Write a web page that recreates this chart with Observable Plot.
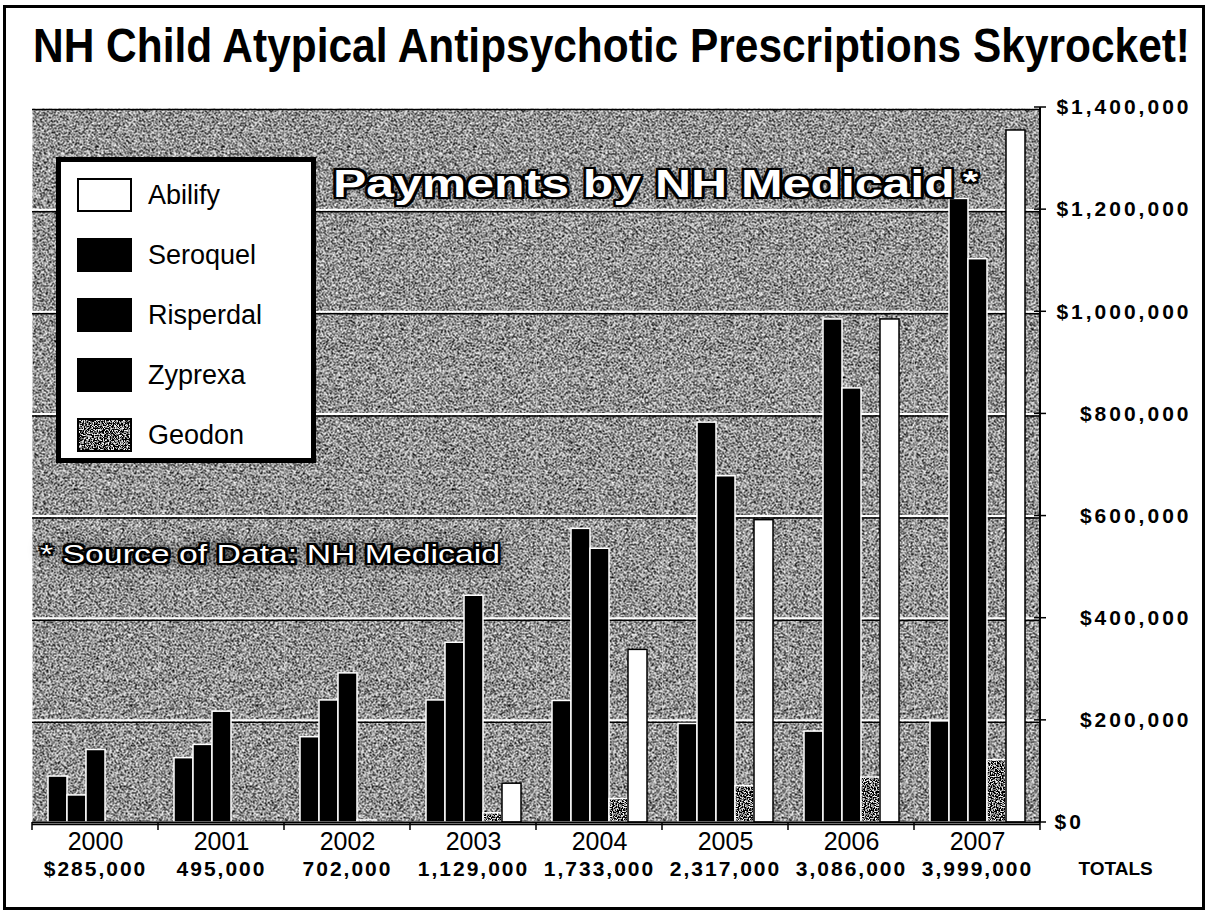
<!DOCTYPE html>
<html>
<head>
<meta charset="utf-8">
<script src="https://cdn.jsdelivr.net/npm/d3@7"></script>
<script src="https://cdn.jsdelivr.net/npm/@observablehq/plot@0.6"></script>
<style>
  html, body { margin: 0; padding: 0; background: #fff; }
  body { width: 1208px; height: 917px; position: relative; overflow: hidden;
         font-family: "Liberation Sans", Arial, sans-serif; }
  #frame { position: absolute; left: 3px; top: 5px; width: 1196px; height: 899px; border: 3px solid #000; }
  #chart { position: absolute; left: 0; top: 0; }
  .fit { position: absolute; white-space: nowrap; line-height: 1; transform-origin: 0 0; }
  #title { left: 33px; top: 22px; font-size: 48px; font-weight: bold; color: #000;
           font-family: "Liberation Sans Narrow", "Liberation Sans", Arial, sans-serif; }
  #subtitle { left: 333px; top: 165px; font-size: 38px; font-weight: bold; color: #fff;
              text-shadow: 2px 0 0 #000, -2px 0 0 #000, 0 2px 0 #000, 0 -2px 0 #000,
                           2px 2px 0 #000, -2px -2px 0 #000, 2px -2px 0 #000, -2px 2px 0 #000, 0 0 6px #000; }
  #subtitle .star { font-size: 30px; vertical-align: 6px; margin-left: 6px; }
  #source { left: 40px; top: 541px; font-size: 26px; color: #fff;
            text-shadow: 2px 0 0 #000, -2px 0 0 #000, 0 2px 0 #000, 0 -2px 0 #000,
                         2px 2px 0 #000, -2px -2px 0 #000, 2px -2px 0 #000, -2px 2px 0 #000, 0 0 8px #000, 0 0 12px #000; }
  #legend { position: absolute; left: 56px; top: 157px; width: 250px; height: 296px;
            border: 5px solid #000; background: #fff; }
  .lrow { position: absolute; left: 16px; height: 34px; display: flex; align-items: center; }
  .lrow svg { display: block; }
  .lrow span { margin-left: 16px; font-size: 27px; color: #000; }
</style>
</head>
<body>
<svg width="0" height="0" style="position:absolute">
  <defs>
    <filter id="grain" x="0" y="0" width="100%" height="100%" filterUnits="objectBoundingBox">
      <feTurbulence type="fractalNoise" baseFrequency="0.75" numOctaves="3" seed="7"/>
      <feColorMatrix type="matrix" values="4.5 0 0 0 -1.85  4.5 0 0 0 -1.85  4.5 0 0 0 -1.85  0 0 0 0 1"/>
    </filter>
    <filter id="grainDark" x="0" y="0" width="100%" height="100%" filterUnits="objectBoundingBox">
      <feTurbulence type="fractalNoise" baseFrequency="0.8" numOctaves="2" seed="3"/>
      <feColorMatrix type="matrix" values="4 0 0 0 -1.85  4 0 0 0 -1.85  4 0 0 0 -1.85  0 0 0 0 1"/>
    </filter>
    <pattern id="noise" patternUnits="userSpaceOnUse" x="0" y="0" width="1208" height="917">
      <rect width="1208" height="917" fill="#777" filter="url(#grain)"/>
    </pattern>
    <pattern id="noiseDark" patternUnits="userSpaceOnUse" x="0" y="0" width="1208" height="917">
      <rect width="1208" height="917" fill="#333" filter="url(#grainDark)"/>
    </pattern>
  </defs>
</svg>
<div id="frame"></div>
<div id="chart"></div>
<div id="title" class="fit">NH Child Atypical Antipsychotic Prescriptions Skyrocket!</div>
<div id="subtitle" class="fit">Payments by NH Medicaid<span class="star">*</span></div>
<div id="source" class="fit">* Source of Data: NH Medicaid</div>
<div id="legend"></div>
<script>
// ---- data ----
const years = ["2000", "2001", "2002", "2003", "2004", "2005", "2006", "2007"];
const barOrder = ["Zyprexa", "Risperdal", "Seroquel", "Geodon", "Abilify"];
const legendOrder = ["Abilify", "Seroquel", "Risperdal", "Zyprexa", "Geodon"];
const zyprexa   = [90000, 126000, 167000, 239000, 238000, 193000, 178000, 198000];
const risperdal = [53000, 152000, 239000, 352000, 575000, 783000, 985000, 1221000];
const seroquel  = [142000, 217000, 292000, 444000, 536000, 678000, 850000, 1103000];
const geodon    = [0, 0, 4000, 18000, 46000, 71000, 88000, 122000];
const abilify   = [0, 0, 0, 76000, 338000, 592000, 985000, 1355000];
const totalLabels = ["$285,000", "495,000", "702,000", "1,129,000", "1,733,000", "2,317,000", "3,086,000", "3,999,000"];
const totalsWord = "TOTALS";
const yTicks = [0, 200000, 400000, 600000, 800000, 1000000, 1200000, 1400000];
const yTickLabels = ["$0", "$200,000", "$400,000", "$600,000", "$800,000", "$1,000,000", "$1,200,000", "$1,400,000"];

const series = {Zyprexa: zyprexa, Risperdal: risperdal, Seroquel: seroquel, Geodon: geodon, Abilify: abilify};
const rows = years.flatMap((year, i) => barOrder.map(drug => ({year, drug, value: series[drug][i]})));
const fills = {Zyprexa: "#000", Risperdal: "#000", Seroquel: "#000", Geodon: "url(#noiseDark)", Abilify: "#fff"};

const chart = Plot.plot({
  width: 1208,
  height: 917,
  marginLeft: 30,
  marginRight: 166,
  marginTop: 107,
  marginBottom: 95,
  style: {background: "transparent", fontFamily: "'Liberation Sans', Arial, sans-serif", color: "#000", overflow: "visible"},
  fx: {domain: years, padding: 0, label: null},
  x: {domain: barOrder, paddingInner: 0, paddingOuter: 0.75, axis: null},
  y: {domain: [0, 1400000], label: null},
  color: {domain: barOrder, range: barOrder.map(d => fills[d])},
  marks: [
    Plot.frame({fill: "url(#noise)", stroke: null}),
    Plot.gridY(yTicks, {stroke: "#000", strokeOpacity: 1, strokeWidth: 1.5, dy: 2}),
    Plot.gridY(yTicks, {stroke: "#fff", strokeOpacity: 1, strokeWidth: 2}),
    Plot.barY(rows, {filter: d => d.drug !== "Abilify", fx: "year", x: "drug", y: "value", fill: "drug", stroke: "#fff", strokeWidth: 1.5}),
    Plot.barY(rows, {filter: d => d.drug === "Abilify", fx: "year", x: "drug", y: "value", fill: "#fff", stroke: "#000", strokeWidth: 1.5}),
    Plot.ruleY([0], {stroke: "#000", strokeWidth: 2}),
    Plot.axisY(yTicks, {anchor: "right", tickSize: 0, tickPadding: 9, label: null,
      tickFormat: d => yTickLabels[yTicks.indexOf(d)],
      textAnchor: "end", dx: 142, fontSize: 21, fontWeight: "bold"}),
    Plot.axisFx({anchor: "bottom", tickSize: 0, tickPadding: 10, label: null, fontSize: 25,
      fontFamily: "'Liberation Sans Narrow', 'Liberation Sans', Arial, sans-serif"}),
    Plot.axisFx({anchor: "bottom", tickSize: 0, tickPadding: 39, label: null, fontSize: 21, fontWeight: "bold",
      tickFormat: d => totalLabels[years.indexOf(d)]}),
    Plot.text([{year: years[years.length - 1], label: totalsWord}], {fx: "year", text: "label",
      frameAnchor: "bottom-right", lineAnchor: "top", textAnchor: "start", dx: 38, dy: 39, fontSize: 19, fontWeight: "bold"})
  ]
});
document.getElementById("chart").appendChild(chart);

const svg = d3.select(chart);
// wider spacing of the tick labels, as in the scan
svg.selectAll('g[aria-label="y-axis tick label"] text').attr("letter-spacing", 3)
  .filter(function() { return this.textContent === yTickLabels[0]; })
  .attr("text-anchor", "start").attr("dx", -137);
const fxGroups = svg.selectAll('g[aria-label="fx-axis tick label"]').nodes();
if (fxGroups.length > 1) d3.select(fxGroups[1]).selectAll("text").attr("letter-spacing", 2);

// axis line on the right, its ticks, and the boundary ticks under the x axis, from the chart's own scales
const fxs = chart.scale("fx"), ys = chart.scale("y");
const right = fxs.apply(years[years.length - 1]) + fxs.bandwidth;
const g = svg.append("g").attr("stroke", "#000");
g.append("line").attr("x1", right).attr("x2", right).attr("y1", ys.range[1]).attr("y2", ys.range[0]).attr("stroke-width", 2);
years.concat([null]).forEach(yr => {
  const x = yr === null ? right : fxs.apply(yr);
  g.append("line").attr("x1", x).attr("x2", x).attr("y1", ys.range[0]).attr("y2", ys.range[0] + 8).attr("stroke-width", 1.5);
});
g.selectAll(null).data(yTicks).join("line")
  .attr("x1", right - 6).attr("x2", right + 6).attr("y1", d => ys.apply(d)).attr("y2", d => ys.apply(d)).attr("stroke-width", 1.5);

// legend
const legend = document.getElementById("legend");
legendOrder.forEach((drug, i) => {
  const row = document.createElement("div");
  row.className = "lrow";
  row.style.top = (16 + i * 60) + "px";
  const fill = fills[drug];
  row.innerHTML = `<svg width="55" height="34"><rect x="1" y="1" width="53" height="32" fill="${fill}" stroke="#000" stroke-width="2"/></svg><span>${drug}</span>`;
  legend.appendChild(row);
});

// fit text widths
function fit(id, target) {
  const el = document.getElementById(id);
  const w = el.getBoundingClientRect().width;
  el.style.transform = `scaleX(${target / w})`;
}
fit("title", 1157);
fit("subtitle", 645);
fit("source", 460);
</script>
</body>
</html>
